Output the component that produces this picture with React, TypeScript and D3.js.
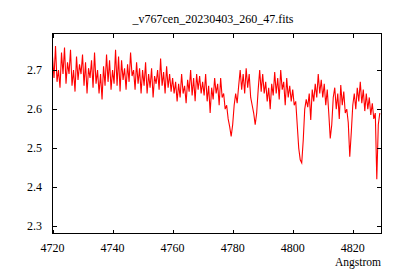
import React from 'react';
import * as d3 from 'd3';

// spectrum sampling (CRVAL1 / CDELT1 style)
const startWavelength = 4720;
const wavelengthStep = 0.5;

const flux = [
  // 4720 - 4729.5
  2.735, 2.680, 2.762, 2.670, 2.700, 2.655, 2.745, 2.690, 2.758, 2.665, 2.720, 2.690, 2.752, 2.660, 2.700, 2.645, 2.735, 2.675, 2.715, 2.690,
  // 4730 - 4739.5
  2.740, 2.660, 2.720, 2.640, 2.705, 2.680, 2.725, 2.655, 2.745, 2.665, 2.700, 2.640, 2.690, 2.625, 2.710, 2.660, 2.740, 2.670, 2.725, 2.650,
  // 4740 - 4749.5
  2.700, 2.665, 2.752, 2.660, 2.735, 2.645, 2.725, 2.675, 2.705, 2.650, 2.715, 2.670, 2.745, 2.685, 2.700, 2.650, 2.720, 2.665, 2.705, 2.640,
  // 4750 - 4759.5
  2.700, 2.660, 2.720, 2.640, 2.690, 2.655, 2.705, 2.630, 2.685, 2.665, 2.700, 2.650, 2.730, 2.660, 2.695, 2.640, 2.710, 2.655, 2.690, 2.645,
  // 4760 - 4769.5
  2.680, 2.640, 2.670, 2.620, 2.665, 2.630, 2.690, 2.640, 2.660, 2.615, 2.675, 2.645, 2.700, 2.635, 2.680, 2.620, 2.690, 2.650, 2.685, 2.640,
  // 4770 - 4779.5
  2.670, 2.635, 2.690, 2.620, 2.660, 2.590, 2.655, 2.625, 2.680, 2.640, 2.665, 2.610, 2.680, 2.630, 2.640, 2.600, 2.610, 2.575, 2.555, 2.530,
  // 4780 - 4789.5
  2.560, 2.610, 2.640, 2.615, 2.660, 2.700, 2.650, 2.690, 2.640, 2.705, 2.655, 2.690, 2.630, 2.610, 2.590, 2.560, 2.590, 2.650, 2.700, 2.645,
  // 4790 - 4799.5
  2.690, 2.640, 2.670, 2.620, 2.655, 2.600, 2.665, 2.635, 2.695, 2.640, 2.680, 2.625, 2.700, 2.650, 2.670, 2.610, 2.680, 2.630, 2.660, 2.620,
  // 4800 - 4809.5
  2.650, 2.610, 2.620, 2.560, 2.500, 2.470, 2.462, 2.520, 2.600, 2.625, 2.605, 2.640, 2.572, 2.650, 2.620, 2.665, 2.630, 2.690, 2.640, 2.675,
  // 4810 - 4819.5
  2.630, 2.665, 2.610, 2.650, 2.590, 2.525, 2.560, 2.630, 2.655, 2.600, 2.640, 2.575, 2.662, 2.610, 2.645, 2.590, 2.600, 2.565, 2.478, 2.540,
  // 4820 - 4829
  2.610, 2.640, 2.600, 2.655, 2.620, 2.670, 2.615, 2.650, 2.595, 2.640, 2.600, 2.630, 2.585, 2.615, 2.575, 2.590, 2.420, 2.560, 2.590,
];

const xTicks = [4720, 4740, 4760, 4780, 4800, 4820];
const yTicks = [2.3, 2.4, 2.5, 2.6, 2.7];

const title = '_v767cen_20230403_260_47.fits';
const xLabel = 'Angstrom';

const width = 400;
const height = 280;
const margin = { top: 33.5, right: 19, bottom: 46.5, left: 52.5 };
const tickLen = 4;

const App: React.FC = () => {
  const x = d3.scaleLinear()
    .domain([4720, 4829.4])
    .range([margin.left, width - margin.right]);
  const y = d3.scaleLinear()
    .domain([2.281, 2.794])
    .range([height - margin.bottom, margin.top]);

  const line = d3.line<number>()
    .x((d, i) => x(startWavelength + i * wavelengthStep))
    .y(d => y(d));

  const [x0, x1] = x.range();
  const [y0, y1] = y.range();

  return (
    <svg width={width} height={height} style={{ position: 'absolute', left: 0, top: 0, background: '#fff' }}>
      <defs>
        <clipPath id="plot-clip">
          <rect x={x0} y={y1} width={x1 - x0} height={y0 - y1} />
        </clipPath>
      </defs>

      <text x={213} y={23} textAnchor="middle" fontFamily="Liberation Serif" fontSize={12} fill="#000">
        {title}
      </text>

      {/* spectrum */}
      <path
        d={line(flux) ?? ''}
        fill="none"
        stroke="#ff0000"
        strokeWidth={1.1}
        clipPath="url(#plot-clip)"
      />

      {/* ticks, mirrored on all sides */}
      <g stroke="#000" strokeWidth={1} shapeRendering="crispEdges">
        {xTicks.map(t => {
          const px = Math.round(x(t)) + 0.5;
          return (
            <g key={t}>
              <line x1={px} x2={px} y1={y0} y2={y0 - tickLen} />
              <line x1={px} x2={px} y1={y1} y2={y1 + tickLen} />
            </g>
          );
        })}
        {yTicks.map(t => {
          const py = Math.round(y(t)) + 0.5;
          return (
            <g key={t}>
              <line x1={x0} x2={x0 + tickLen} y1={py} y2={py} />
              <line x1={x1} x2={x1 - tickLen} y1={py} y2={py} />
            </g>
          );
        })}
      </g>

      <rect x={x0} y={y1} width={x1 - x0} height={y0 - y1} fill="none" stroke="#000" strokeWidth={1} shapeRendering="crispEdges" />

      <g fontFamily="Liberation Serif" fontSize={12} fill="#000">
        {xTicks.map(t => (
          <text key={t} x={x(t)} y={252} textAnchor="middle">{t}</text>
        ))}
        {yTicks.map(t => (
          <text key={t} x={42} y={y(t) + 4} textAnchor="end">{t.toFixed(1)}</text>
        ))}
        <text x={381} y={266} textAnchor="end" fontSize={11.5}>{xLabel}</text>
      </g>
    </svg>
  );
};

export default App;
